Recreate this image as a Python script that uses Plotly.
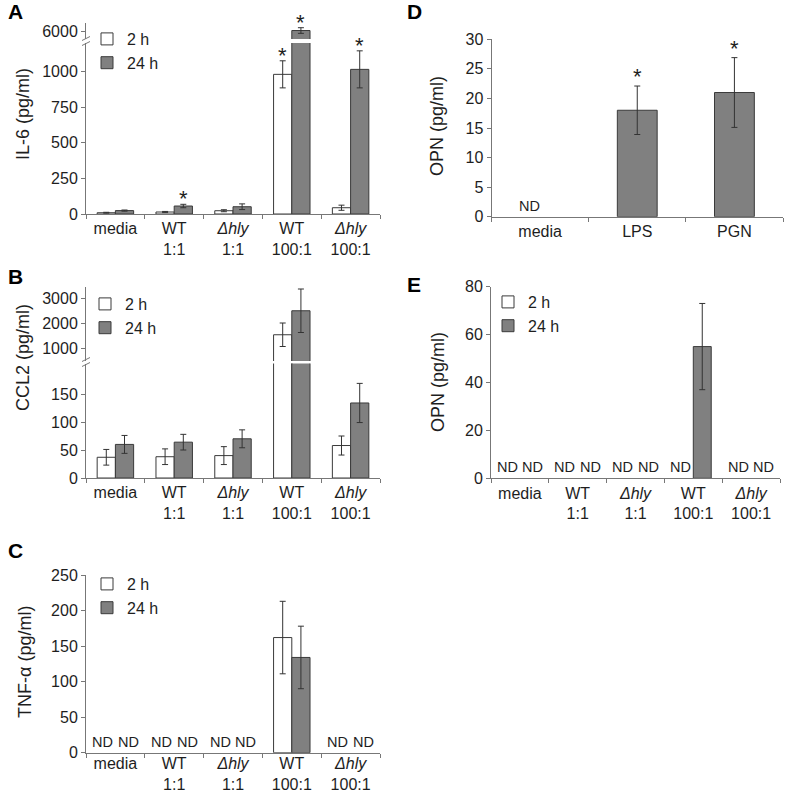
import plotly.graph_objects as go

W, H = 788, 792

# ---------------- DATA ----------------
groups = ["media", "WT<br>1:1", "<i>Δhly</i><br>1:1", "WT<br>100:1", "<i>Δhly</i><br>100:1"]
series_names = ["2 h", "24 h"]

# Panel A: IL-6 (pg/ml)
il6_2h = [9, 14, 23, 980, 44]
il6_2h_err = [3, 4, 7, 95, 18]
il6_2h_sig = [0, 0, 0, 1, 0]
il6_24h = [24, 56, 51, 6050, 1015]
il6_24h_err = [4, 12, 20, 150, 130]
il6_24h_sig = [0, 1, 0, 1, 1]

# Panel B: CCL2 (pg/ml)
ccl2_2h = [37, 38, 40, 1540, 58]
ccl2_2h_err = [14, 14, 16, 470, 17]
ccl2_24h = [60, 64, 70, 2500, 134]
ccl2_24h_err = [16, 14, 16, 870, 35]

# Panel C: TNF-α (pg/ml), None = not detected
tnf_2h = [None, None, None, 162, None]
tnf_2h_err = [None, None, None, 51, None]
tnf_24h = [None, None, None, 134, None]
tnf_24h_err = [None, None, None, 44, None]

# Panel D: OPN (pg/ml) after stimulation
stimuli = ["media", "LPS", "PGN"]
opn_stim = [None, 18, 21]
opn_stim_err = [None, 4.1, 5.9]
opn_stim_sig = [0, 1, 1]

# Panel E: OPN (pg/ml)
opn_2h = [None, None, None, None, None]
opn_2h_err = [None, None, None, None, None]
opn_24h = [None, None, None, 55, None]
opn_24h_err = [None, None, None, 18, None]

# ---------------- STYLE ----------------
FONT = "Liberation Sans, Arial, sans-serif"
GRAY = "#808080"
WHITE = "#ffffff"
EDGE = "#3a3a3a"
AXC = "#777777"
TXT = "#1e1e1e"
BAR_OFF = 0.155
ND_OFF = 0.22


def fx(p):
    return p / W


def fy(p):
    return 1 - p / H


fig = go.Figure()
annotations = []
shapes = []


def add_bars(xa, ya, cats, vals, errs, name, color, legend, showlegend, width=None):
    fig.add_trace(go.Bar(
        x=cats, y=vals, name=name, xaxis=xa, yaxis=ya,
        marker=dict(color=color, line=dict(color=EDGE, width=1)),
        error_y=dict(type="data", array=[e if e is not None else 0 for e in errs],
                     visible=True, color="#333333", thickness=1, width=3),
        legend=legend, showlegend=showlegend, width=width,
        hoverinfo="y",
    ))


def nd_and_stars(xref, yref_low, vals, errs, sigs, offset, nd_offset, low_max=None, yref_up=None, star_shift=-9):
    for i, v in enumerate(vals):
        if v is None:
            annotations.append(dict(x=i + nd_offset, y=0, xref=xref, yref=yref_low, text="ND",
                                    showarrow=False, yanchor="bottom", yshift=1,
                                    font=dict(size=14.5, color=TXT, family=FONT)))
        elif sigs is not None and sigs[i]:
            top = v + (errs[i] or 0)
            yr = yref_low
            if low_max is not None and top > low_max:
                yr = yref_up
            annotations.append(dict(x=i + offset, y=top, xref=xref, yref=yr, text="*",
                                    showarrow=False, yanchor="bottom", yshift=star_shift,
                                    font=dict(size=22, color=TXT, family=FONT)))


# ---- Panel A (x, y lower, y2 upper)
for ya in ["y", "y2"]:
    add_bars("x", ya, groups, il6_2h, il6_2h_err, series_names[0], WHITE, "legend", ya == "y")
    add_bars("x", ya, groups, il6_24h, il6_24h_err, series_names[1], GRAY, "legend", ya == "y")
nd_and_stars("x", "y", il6_2h, il6_2h_err, il6_2h_sig, -BAR_OFF, -ND_OFF, 1200, "y2")
nd_and_stars("x", "y", il6_24h, il6_24h_err, il6_24h_sig, BAR_OFF, ND_OFF, 1200, "y2")

# ---- Panel B (x2, y3 lower, y4 upper)
for ya in ["y3", "y4"]:
    add_bars("x2", ya, groups, ccl2_2h, ccl2_2h_err, series_names[0], WHITE, "legend2", ya == "y3")
    add_bars("x2", ya, groups, ccl2_24h, ccl2_24h_err, series_names[1], GRAY, "legend2", ya == "y3")

# ---- Panel C (x3, y5)
add_bars("x3", "y5", groups, tnf_2h, tnf_2h_err, series_names[0], WHITE, "legend3", True)
add_bars("x3", "y5", groups, tnf_24h, tnf_24h_err, series_names[1], GRAY, "legend3", True)
nd_and_stars("x3", "y5", tnf_2h, tnf_2h_err, None, -BAR_OFF, -ND_OFF)
nd_and_stars("x3", "y5", tnf_24h, tnf_24h_err, None, BAR_OFF, ND_OFF)

# ---- Panel D (x4, y6)
add_bars("x4", "y6", stimuli, opn_stim, opn_stim_err, "OPN", GRAY, "legend", False, width=0.41)
nd_and_stars("x4", "y6", opn_stim, opn_stim_err, opn_stim_sig, 0, -0.11, star_shift=-5)

# ---- Panel E (x5, y7)
add_bars("x5", "y7", groups, opn_2h, opn_2h_err, series_names[0], WHITE, "legend4", True)
add_bars("x5", "y7", groups, opn_24h, opn_24h_err, series_names[1], GRAY, "legend4", True)
nd_and_stars("x5", "y7", opn_2h, opn_2h_err, None, -BAR_OFF, -ND_OFF)
nd_and_stars("x5", "y7", opn_24h, opn_24h_err, None, BAR_OFF, ND_OFF)

# ---------------- AXES ----------------
tickfont = dict(size=16, color=TXT, family=FONT)


def xaxis(x0, x1, anchor, n, standoff=0):
    return dict(domain=[fx(x0), fx(x1)], anchor=anchor, type="category",
                range=[-0.5, n - 0.5], tickson="boundaries", ticks="outside",
                ticklen=4, tickcolor=AXC, showline=True, linecolor=AXC, linewidth=1,
                showgrid=False, zeroline=False, tickfont=tickfont, fixedrange=True,
                automargin=False, ticklabelstandoff=standoff)


def yaxis(y_top, y_bot, rng, anchor, tickvals):
    return dict(domain=[fy(y_bot), fy(y_top)], range=rng, anchor=anchor,
                tickvals=tickvals, ticks="outside", ticklen=4, tickcolor=AXC,
                showline=True, linecolor=AXC, linewidth=1, showgrid=False,
                zeroline=False, tickfont=tickfont, fixedrange=True, automargin=False)


layout = dict(
    template="none",
    width=W, height=H, margin=dict(l=0, r=0, t=0, b=0, autoexpand=False),
    paper_bgcolor="white", plot_bgcolor="white",
    barmode="group", bargap=0.38, bargroupgap=0,
    font=dict(family=FONT, color=TXT),
    xaxis=xaxis(86, 380, "y", 5),
    yaxis=yaxis(43, 214, [0, 1200], "x", [0, 250, 500, 750, 1000]),
    yaxis2=yaxis(23, 39, [5600, 6450], "x", [6000]),
    xaxis2=xaxis(86, 380, "y3", 5),
    yaxis3=yaxis(363.5, 478, [0, 204.5], "x2", [0, 50, 100, 150]),
    yaxis4=yaxis(287, 361, [490, 3450], "x2", [1000, 2000, 3000]),
    xaxis3=xaxis(86, 380, "y5", 5, standoff=-4),
    yaxis5=yaxis(575, 752.7, [0, 250], "x3", [0, 50, 100, 150, 200, 250]),
    xaxis4=xaxis(491.5, 783, "y6", 3),
    yaxis6=yaxis(39.3, 216.7, [0, 30], "x4", [0, 5, 10, 15, 20, 25, 30]),
    xaxis5=xaxis(491, 780, "y7", 5),
    yaxis7=yaxis(286.7, 478.3, [0, 80], "x5", [0, 20, 40, 60, 80]),
)


def legend_at(px_left, px_top):
    return dict(x=fx(px_left), y=fy(px_top), xanchor="left", yanchor="top",
                bgcolor="rgba(0,0,0,0)", font=dict(size=16, color=TXT, family=FONT),
                traceorder="normal", tracegroupgap=0, itemclick=False, itemdoubleclick=False)


layout["legend"] = legend_at(87, 22)
layout["legend2"] = legend_at(85, 287)
layout["legend3"] = legend_at(87, 567)
layout["legend4"] = legend_at(488, 285)

# panel letters
for letter, px_x, px_y in [("A", 15, 12), ("B", 15, 276), ("C", 15, 550), ("D", 414, 12), ("E", 414, 284)]:
    annotations.append(dict(x=fx(px_x), y=fy(px_y), xref="paper", yref="paper", text="<b>%s</b>" % letter,
                            showarrow=False, xanchor="center", yanchor="middle",
                            font=dict(size=21, color="#000", family=FONT)))

# y-axis titles
for title, px_x, px_y in [("IL-6 (pg/ml)", 23, 114), ("CCL2 (pg/ml)", 23, 358), ("TNF-α (pg/ml)", 25, 662),
                          ("OPN (pg/ml)", 437, 126), ("OPN (pg/ml)", 438, 382)]:
    annotations.append(dict(x=fx(px_x), y=fy(px_y), xref="paper", yref="paper", text=title,
                            showarrow=False, textangle=-90, xanchor="center", yanchor="middle",
                            font=dict(size=18, color=TXT, family=FONT)))

# axis break marks
for bx, by in [(86, 41), (86, 362)]:
    for dy in (-2.5, 2.5):
        shapes.append(dict(type="line", xref="paper", yref="paper",
                           x0=fx(bx - 4), y0=fy(by + dy + 2), x1=fx(bx + 4), y1=fy(by + dy - 2),
                           line=dict(color=AXC, width=1)))

layout["annotations"] = annotations
layout["shapes"] = shapes
fig.update_layout(**layout)
fig.write_html("out.html", config={"displayModeBar": False},
               post_script="document.body.style.margin='0';document.body.style.overflow='hidden';")
